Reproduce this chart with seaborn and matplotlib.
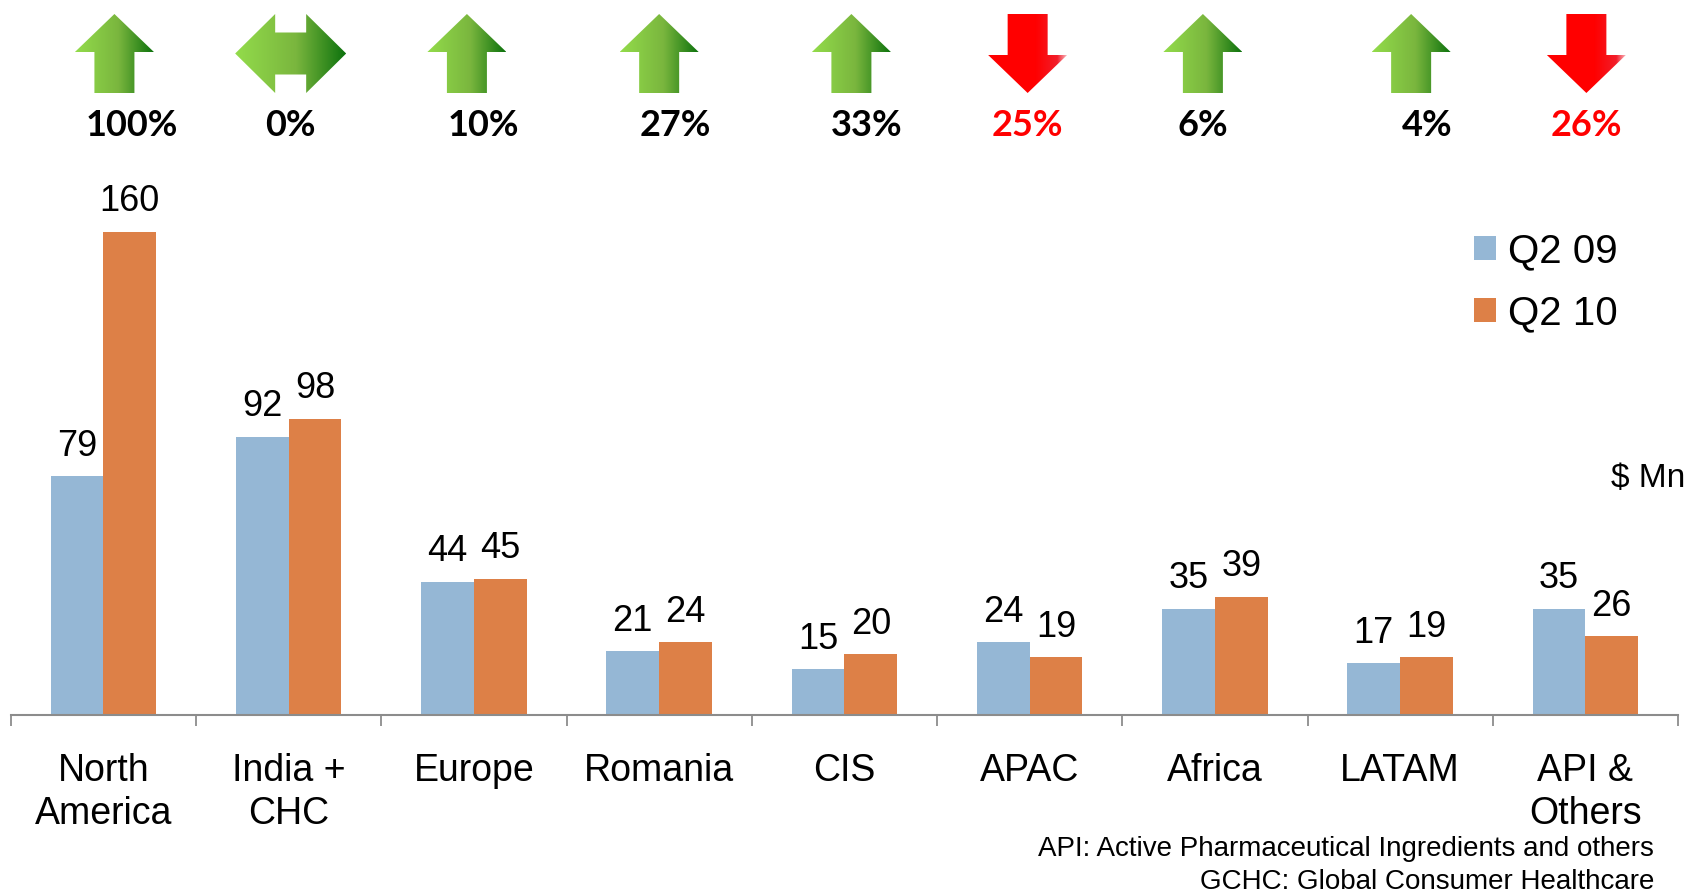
import numpy as np
import pandas as pd
import seaborn as sns
import matplotlib.pyplot as plt
from matplotlib.patches import Polygon
from matplotlib.colors import LinearSegmentedColormap

# data
regions = ["North\nAmerica", "India +\nCHC", "Europe", "Romania", "CIS",
           "APAC", "Africa", "LATAM", "API &\nOthers"]
q2_09 = [79, 92, 44, 21, 15, 24, 35, 17, 35]
q2_10 = [160, 98, 45, 24, 20, 19, 39, 19, 26]
growth = ["100%", "0%", "10%", "27%", "33%", "25%", "6%", "4%", "26%"]
trend = ["up", "flat", "up", "up", "up", "down", "up", "up", "down"]
periods = ["Q2 09", "Q2 10"]

# small horizontal nudges (px) of arrows / percent labels vs. category centre
arrow_dx = [11, 2, -7, 0, 7, -2, -12, 11, 1]
label_dx = [28, 2, 9, 16, 22, -2, -12, 27, 1]

sns.set_theme(style="white")
plt.rcParams['font.family'] = ['Liberation Sans', 'DejaVu Sans']
plt.rcParams['text.color'] = 'black'
plt.rcParams['xtick.color'] = 'black'

df = pd.DataFrame({
    "region": regions * 2,
    "period": [periods[0]] * len(regions) + [periods[1]] * len(regions),
    "value": q2_09 + q2_10,
})

W, H = 1690, 892
fig = plt.figure(figsize=(W / 100, H / 100), dpi=100)
ax = fig.add_axes([10.8 / W, 1 - 714.6 / H, (1678 - 10.8) / W, (714.6 - 150) / H])

sns.barplot(data=df, x="region", y="value", hue="period",
            palette=["#95B7D5", "#DD8047"], width=0.57, saturation=1,
            linewidth=0, ax=ax)

for c in ax.containers:
    ax.bar_label(c, padding=9, fontsize=26, color="black")

ax.set_xlim(-0.5, len(regions) - 0.5)
ax.set_ylim(0, 187)
ax.set_xlabel("")
ax.set_ylabel("")
ax.set_yticks([])
for s in ["left", "right", "top"]:
    ax.spines[s].set_visible(False)
ax.spines["bottom"].set_color("#8C8C8C")
ax.spines["bottom"].set_linewidth(1.5)
ax.set_xticks(np.arange(-0.5, len(regions)), minor=True)
ax.tick_params(axis="x", which="minor", length=8, width=1.3, color="#8C8C8C",
               direction="out", bottom=True)
ax.tick_params(axis="x", which="major", length=0, pad=28, labelsize=27,
               labelcolor="black")
for t in ax.get_xticklabels():
    t.set_linespacing(1.25)

leg = ax.legend(loc="upper left", bbox_to_anchor=(1474 / W, 1 - 232 / H),
                bbox_transform=fig.transFigure, frameon=False, fontsize=29,
                handlelength=0.55, handleheight=0.55, handletextpad=0.3,
                labelspacing=0.6, borderpad=0, borderaxespad=0)
for t in leg.get_texts():
    t.set_color("black")

fig.text(1648 / W, 1 - 478 / H, "$ Mn", fontsize=24, ha="center", va="center")
fig.text(1654 / W, 1 - 849 / H, "API: Active Pharmaceutical Ingredients and others",
         fontsize=20, ha="right", va="center")
fig.text(1654 / W, 1 - 882 / H, "GCHC: Global Consumer Healthcare",
         fontsize=20, ha="right", va="center")

# overlay in image pixel coordinates for the trend arrows
ov = fig.add_axes([0, 0, 1, 1], zorder=5)
ov.set_xlim(0, W)
ov.set_ylim(H, 0)
ov.axis("off")
ov.patch.set_alpha(0)

green = LinearSegmentedColormap.from_list(
    "g", [(0, "#93DC4B"), (0.55, "#7AB63E"), (1, "#0D720D")])
red = LinearSegmentedColormap.from_list(
    "r", [(0, "#FF0000"), (0.6, "#FF0000"), (0.88, "#F21E2A"), (1, "#F9B7BE")])
grad = np.linspace(0, 1, 256).reshape(1, -1)

fig.canvas.draw()
top, bot = 14, 93
for i, (g, tr) in enumerate(zip(growth, trend)):
    xc = ax.transData.transform((i, 0))[0]
    cx = xc + arrow_dx[i]
    if tr == "flat":
        w, hl, sh = 111, 40, 42
        mid = (top + bot) / 2
        x0, x1 = cx - w / 2, cx + w / 2
        pts = [(x0, mid), (x0 + hl, top), (x0 + hl, mid - sh / 2), (x1 - hl, mid - sh / 2),
               (x1 - hl, top), (x1, mid), (x1 - hl, bot), (x1 - hl, mid + sh / 2),
               (x0 + hl, mid + sh / 2), (x0 + hl, bot)]
        cmap = green
    else:
        w, hh, sw = 79, 38, 40
        x0, x1 = cx - w / 2, cx + w / 2
        if tr == "up":
            pts = [(cx, top), (x1, top + hh), (cx + sw / 2, top + hh), (cx + sw / 2, bot),
                   (cx - sw / 2, bot), (cx - sw / 2, top + hh), (x0, top + hh)]
            cmap = green
        else:
            pts = [(cx, bot), (x1, bot - hh), (cx + sw / 2, bot - hh), (cx + sw / 2, top),
                   (cx - sw / 2, top), (cx - sw / 2, bot - hh), (x0, bot - hh)]
            cmap = red
    poly = Polygon(pts, closed=True, facecolor="none", edgecolor="none")
    ov.add_patch(poly)
    im = ov.imshow(grad, cmap=cmap, extent=(x0, x1, bot, top), aspect="auto",
                   interpolation="bilinear")
    im.set_clip_path(poly)
    ov.text(xc + label_dx[i], 125, g, fontsize=26, fontweight="bold",
            family=["Lato", "DejaVu Sans"],
            color="#FF0000" if tr == "down" else "black", ha="center", va="center")

ov.set_xlim(0, W)
ov.set_ylim(H, 0)

plt.savefig("out.png", dpi=100)
